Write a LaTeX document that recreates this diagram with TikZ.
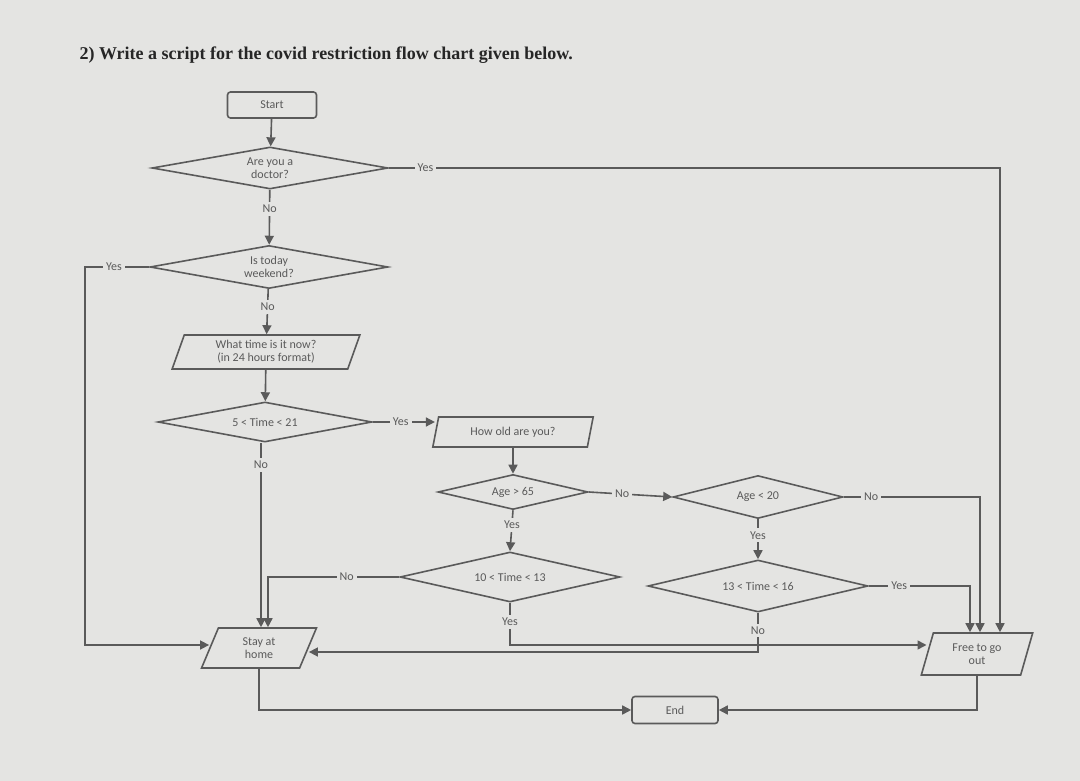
\documentclass[tikz,border=0pt]{standalone}
\usepackage{fontspec}
\setmainfont{Liberation Serif}
\newfontfamily\lab{Carlito}
\usetikzlibrary{shapes.geometric,arrows.meta}
\definecolor{bg}{HTML}{E4E4E2}
\definecolor{ln}{HTML}{5A5A5A}
\begin{document}
\begin{tikzpicture}[x=1pt,y=-1pt,
  every node/.style={font=\lab\fontsize{12}{13}\selectfont, text=ln},
  base/.style={draw=ln, line width=1.6pt, align=center, inner sep=0pt},
  dia/.style={base, diamond, shape aspect=#1},
  rbox/.style={base, rounded corners=3pt},
  para/.style={base, trapezium, trapezium left angle=72, trapezium right angle=108, trapezium stretches=true},
  lbl/.style={fill=bg, inner sep=3pt},
  ar/.style={draw=ln, line width=1.6pt, -{Triangle[length=9pt,width=9pt]}},
  ln/.style={draw=ln, line width=1.6pt}]
\fill[bg] (0,0) rectangle (1080,781);
\useasboundingbox (0,0) rectangle (1080,781);
\node[anchor=west, font=\bfseries\fontsize{18}{20}\selectfont, text=black!85] (title) at (76,55) {2) Write a script for the covid restriction flow chart given below.};
\node[rbox, minimum width=89pt, minimum height=26pt] (start) at (272,105) {Start};
\node[dia=5.6, minimum width=236pt, minimum height=42pt] (d1) at (270,168) {Are you a\\doctor?};
\node[dia=5.5, minimum width=238pt, minimum height=43pt] (d2) at (269,267) {Is today\\weekend?};
\node[para, minimum width=188pt, minimum height=34pt] (what) at (266,352) {What time is it now?\\(in 24 hours format)};
\node[dia=5.3, minimum width=214pt, minimum height=40pt] (d3) at (265,422) {5 < Time < 21};
\node[para, minimum width=162pt, minimum height=30pt] (how) at (513,432) {How old are you?};
\node[dia=4.3, minimum width=150pt, minimum height=35pt] (d4) at (513,492) {Age > 65};
\node[dia=4.0, minimum width=170pt, minimum height=43pt] (d5) at (758,497) {Age < 20};
\node[dia=4.4, minimum width=220pt, minimum height=50pt] (d6) at (510,577) {10 < Time < 13};
\node[dia=4.2, minimum width=220pt, minimum height=52pt] (d7) at (758,586) {13 < Time < 16};
\node[para, minimum width=115pt, minimum height=40pt] (stay) at (259,648) {Stay at\\home};
\node[para, minimum width=112pt, minimum height=42pt] (free) at (977,654) {Free to go\\out};
\node[rbox, minimum width=86pt, minimum height=27pt] (end) at (675,710) {End};
\coordinate (c1) at (1000,168);
\coordinate (c2a) at (85,267);
\coordinate (c2b) at (85,645);
\coordinate (c5) at (980,497);
\coordinate (c7) at (970,586);
\coordinate (c3) at (261,422);
\coordinate (c6a) at (268,577);
\coordinate (c6y) at (510,645);
\coordinate (c7n) at (758,652);
\coordinate (cs) at (259,710);
\coordinate (cf) at (977,710);
\draw[ar] (start) -- (d1);
\draw[ar] (d1) -- node[lbl, pos=0.35]{No} (d2);
\draw[ar] (d1.east) -- node[lbl, pos=0.06]{Yes} (c1) -- (c1 |- free.north);
\draw[ar] (d2.west) -- node[lbl, pos=0.55]{Yes} (c2a) -- (c2b) -- (c2b -| stay.west);
\draw[ar] (d2) -- node[lbl, pos=0.4]{No} (what);
\draw[ar] (what) -- (d3);
\draw[ar] (d3.east) -- node[lbl, pos=0.45]{Yes} (d3.east -| how.west);
\draw[ar] (c3 |- d3.south) -- node[lbl, pos=0.12]{No} (c3 |- stay.north);
\draw[ar] (how) -- (d4);
\draw[ar] (d4.east) -- node[lbl, pos=0.4]{No} (d5.west);
\draw[ar] (d4.south) -- node[lbl, pos=0.35]{Yes} (d6.north);
\draw[ar] (d6.west) -- node[lbl, pos=0.4]{No} (c6a) -- (c6a |- stay.north);
\draw[ar] (d5.south) -- node[lbl, pos=0.4]{Yes} (d7.north);
\draw[ar] (d5.east) -- node[lbl, pos=0.2]{No} (c5) -- (c5 |- free.north);
\draw[ar] (d7.east) -- node[lbl, pos=0.3]{Yes} (c7) -- (c7 |- free.north);
\draw[ar] (d6.south) -- node[lbl, pos=0.45]{Yes} (c6y) -- (c6y -| free.west);
\draw[ar] (d7.south) -- node[lbl, pos=0.45]{No} (c7n) -- (c7n -| stay.east);
\draw[ar] (stay.south) -- (cs) -- (end.west);
\draw[ar] (free.south) -- (cf) -- (end.east);
\end{tikzpicture}
\end{document}
